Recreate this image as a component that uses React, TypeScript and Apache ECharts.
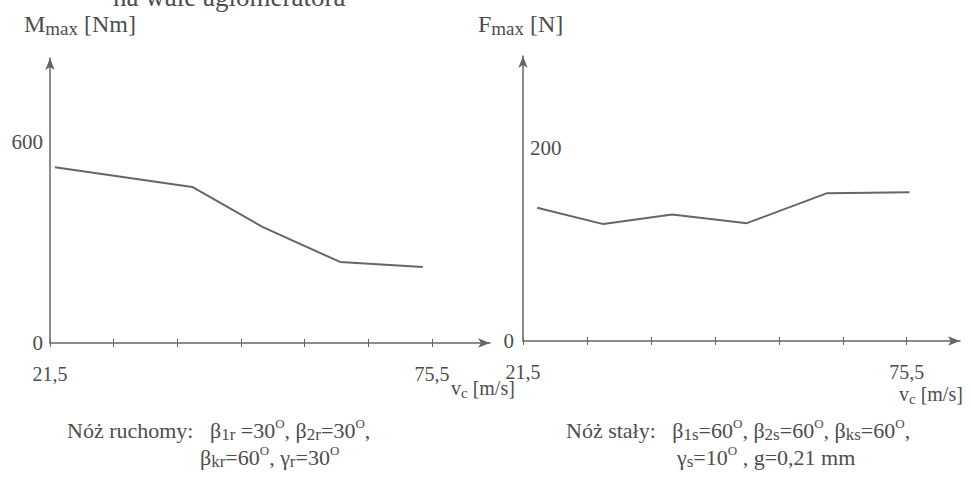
import React, { useEffect, useRef } from "react";
import * as echarts from "echarts";

// Left chart: M_max [Nm] vs v_c [m/s]
const vLeft = [22.2, 41.6, 51.6, 62.5, 74.2];
const mMax = [525, 466, 346, 242, 227];
// Right chart: F_max [N] vs v_c [m/s]
const vRight = [23.5, 32.8, 42.5, 53.0, 64.3, 75.9];
const fMax = [138, 121, 131, 122, 153, 154];

const xTicks = [21.5, 30.5, 39.5, 48.5, 57.5, 66.5, 75.5];
const xTickLabels = [21.5, 75.5];
const mLabels = [0, 600];
const fLabelsOutside = [0];
const fLabelsInside = [200];

const SERIF = "Liberation Serif";
const TXT = "#4d4d4d";
const LINE = "#666666";

const rich = {
  t: { fontFamily: SERIF, fontSize: 22, lineHeight: 26, verticalAlign: "middle", fill: TXT },
  sub: { fontFamily: SERIF, fontSize: 17, lineHeight: 12, verticalAlign: "bottom", fill: TXT },
  sup: { fontFamily: SERIF, fontSize: 13, lineHeight: 12, verticalAlign: "top", fill: TXT },
  v: { fontFamily: SERIF, fontSize: 20, lineHeight: 24, verticalAlign: "middle", fill: TXT },
  vsub: { fontFamily: SERIF, fontSize: 15, lineHeight: 11, verticalAlign: "bottom", fill: TXT },
  big: { fontFamily: SERIF, fontSize: 24, lineHeight: 28, verticalAlign: "middle", fill: TXT },
  bsub: { fontFamily: SERIF, fontSize: 19, lineHeight: 13, verticalAlign: "bottom", fill: TXT },
};

const fmt = (v: number) => String(v).replace(".", ",");

function xAxes(grid: number, max: number) {
  const lineStyle = { color: LINE, width: 1.5 };
  return [
    {
      type: "value",
      gridIndex: grid,
      position: "bottom",
      min: 21.5,
      max,
      axisLine: { show: true, lineStyle, symbol: ["none", "arrow"], symbolSize: [7, 12] },
      axisTick: { show: true, customValues: xTicks, length: 4, lineStyle: { color: LINE, width: 1 } },
      axisLabel: {
        customValues: xTickLabels,
        formatter: fmt,
        margin: 21,
        fontFamily: SERIF,
        fontSize: 20,
        color: TXT,
      },
      splitLine: { show: false },
    },
    {
      type: "value",
      gridIndex: grid,
      position: "bottom",
      min: 21.5,
      max,
      axisLine: { show: false },
      axisTick: { show: true, inside: true, customValues: xTicks, length: 4, lineStyle: { color: LINE, width: 1 } },
      axisLabel: { show: false },
      splitLine: { show: false },
    },
  ];
}

function textEl(x: number, y: number, text: string) {
  return {
    type: "text",
    x,
    y,
    silent: true,
    style: { text, rich, textVerticalAlign: "middle", fill: TXT },
  };
}

export default function App() {
  const ref = useRef<HTMLDivElement>(null);
  useEffect(() => {
    if (!ref.current) return;
    const chart = echarts.init(ref.current, null, { renderer: "svg" });
    const axisLine = { show: true, lineStyle: { color: LINE, width: 1.5 }, symbol: ["none", "arrow"], symbolSize: [7, 12] };
    chart.setOption({
      animation: false,
      backgroundColor: "#ffffff",
      grid: [
        { left: 50, top: 58, width: 440, height: 285 },
        { left: 523, top: 56, width: 437, height: 285 },
      ],
      xAxis: [...xAxes(0, 83.7), ...xAxes(1, 83.0)],
      yAxis: [
        {
          type: "value",
          gridIndex: 0,
          position: "left",
          min: 0,
          max: 851,
          axisLine,
          axisTick: { show: false },
          axisLabel: { customValues: mLabels, margin: 7, fontFamily: SERIF, fontSize: 21, color: TXT },
          splitLine: { show: false },
        },
        {
          type: "value",
          gridIndex: 1,
          position: "left",
          min: 0,
          max: 295,
          axisLine,
          axisTick: { show: false },
          axisLabel: { customValues: fLabelsOutside, margin: 9, fontFamily: SERIF, fontSize: 21, color: TXT },
          splitLine: { show: false },
        },
        {
          type: "value",
          gridIndex: 1,
          position: "left",
          min: 0,
          max: 295,
          axisLine: { show: false },
          axisTick: { show: false },
          axisLabel: { inside: true, customValues: fLabelsInside, margin: 7, fontFamily: SERIF, fontSize: 21, color: TXT },
          splitLine: { show: false },
        },
      ],
      series: [
        {
          type: "line",
          xAxisIndex: 0,
          yAxisIndex: 0,
          showSymbol: false,
          lineStyle: { color: LINE, width: 2 },
          data: vLeft.map((v, i) => [v, mMax[i]]),
        },
        {
          type: "line",
          xAxisIndex: 2,
          yAxisIndex: 1,
          showSymbol: false,
          lineStyle: { color: LINE, width: 2 },
          data: vRight.map((v, i) => [v, fMax[i]]),
        },
      ],
      graphic: [
        {
          type: "text",
          x: 113,
          y: -3,
          silent: true,
          style: { text: "na wale aglomeratora", font: `27px '${SERIF}'`, fill: TXT, textVerticalAlign: "middle" },
        },
        textEl(24, 24, "{big|M}{bsub|max}{big| [Nm]}"),
        textEl(478, 24, "{big|F}{bsub|max}{big| [N]}"),
        textEl(451, 388, "{v|v}{vsub|c}{v| [m/s]}"),
        textEl(899, 394, "{v|v}{vsub|c}{v| [m/s]}"),
        textEl(67, 430, "{t|Nóż ruchomy:   β}{sub|1r}{t| =30}{sup|O}{t|, β}{sub|2r}{t|=30}{sup|O}{t|,}"),
        textEl(200, 457, "{t|β}{sub|kr}{t|=60}{sup|O}{t|, γ}{sub|r}{t|=30}{sup|O}"),
        textEl(566, 430, "{t|Nóż stały:   β}{sub|1s}{t|=60}{sup|O}{t|, β}{sub|2s}{t|=60}{sup|O}{t|, β}{sub|ks}{t|=60}{sup|O}{t|,}"),
        textEl(677, 457, "{t|γ}{sub|s}{t|=10}{sup|O}{t| , g=0,21 mm}"),
      ],
    });
    return () => chart.dispose();
  }, []);
  return <div ref={ref} style={{ position: "absolute", left: 0, top: 0, width: 972, height: 479 }} />;
}
